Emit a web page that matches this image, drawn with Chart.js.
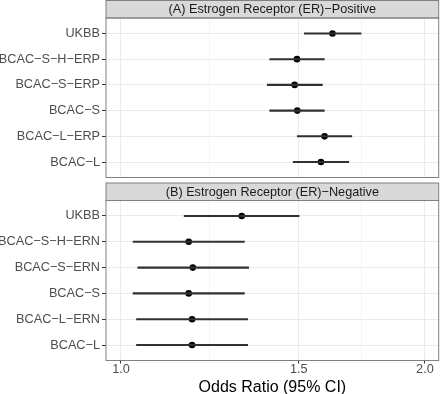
<!DOCTYPE html>
<html lang="en">
<head>
  <meta charset="UTF-8" />
  <title>Odds ratios by ER status</title>
  <script src="https://cdn.jsdelivr.net/npm/chart.js"></script>
  <style>
    body { margin: 0; background: #fff; }
    #wrap { position: relative; width: 440px; height: 394px; background: #fff; }
    #wrap canvas { position: absolute; left: 0; }
  </style>
</head>
<body>
  <div id="wrap">
    <canvas id="chartA" width="440" height="180" style="top:0"></canvas>
    <canvas id="chartB" width="440" height="214" style="top:180px"></canvas>
  </div>

  <script>
    // panel A: ER-positive
    const posTitle = '(A) Estrogen Receptor (ER)\u2212Positive';
    const posLabels = ['UKBB', 'BCAC\u2212S\u2212H\u2212ERP', 'BCAC\u2212S\u2212ERP', 'BCAC\u2212S', 'BCAC\u2212L\u2212ERP', 'BCAC\u2212L'];
    const posOR    = [1.620, 1.494, 1.486, 1.495, 1.591, 1.578];
    const posLower = [1.519, 1.404, 1.396, 1.404, 1.495, 1.481];
    const posUpper = [1.729, 1.590, 1.583, 1.590, 1.693, 1.681];

    // panel B: ER-negative
    const negTitle = '(B) Estrogen Receptor (ER)\u2212Negative';
    const negLabels = ['UKBB', 'BCAC\u2212S\u2212H\u2212ERN', 'BCAC\u2212S\u2212ERN', 'BCAC\u2212S', 'BCAC\u2212L\u2212ERN', 'BCAC\u2212L'];
    const negOR    = [1.317, 1.167, 1.178, 1.167, 1.176, 1.176];
    const negLower = [1.155, 1.028, 1.039, 1.028, 1.036, 1.036];
    const negUpper = [1.501, 1.325, 1.338, 1.325, 1.335, 1.335];

    // x axis (log scale)
    const tickValues = [1, 1.5, 2];
    const tickLabels = ['1.0', '1.5', '2.0'];
    const xMin = 0.9664;
    const xMax = 2.064;

    const FONT = '"Liberation Sans", Arial, sans-serif';
    const STRIP_H = 17.5;

    // minor grid lines sit halfway (in log space) between major breaks
    const minorValues = [];
    for (let i = 0; i < tickValues.length - 1; i++) {
      minorValues.push(Math.sqrt(tickValues[i] * tickValues[i + 1]));
    }
    const gridValues = [...tickValues, ...minorValues].sort((a, b) => a - b);

    // grey facet strip above the panel + panel border
    const stripPlugin = {
      id: 'strip',
      afterDraw(chart, args, opts) {
        const { ctx, chartArea: a } = chart;
        const w = a.right - a.left;
        ctx.save();
        ctx.fillStyle = '#d9d9d9';
        ctx.fillRect(a.left, a.top - STRIP_H, w, STRIP_H);
        ctx.strokeStyle = '#808080';
        ctx.lineWidth = 1;
        ctx.strokeRect(a.left, a.top - STRIP_H, w, STRIP_H);
        ctx.strokeRect(a.left, a.top, w, a.bottom - a.top);
        ctx.fillStyle = '#1a1a1a';
        ctx.font = '12.7px ' + FONT;
        ctx.textAlign = 'center';
        ctx.textBaseline = 'middle';
        ctx.fillText(opts.text, a.left + w / 2, a.top - STRIP_H / 2 + 0.5);
        ctx.restore();
      }
    };

    // keep label overhang from shrinking the plot area
    function noOverhang(s) {
      s.paddingTop = 0;
      s.paddingBottom = 0;
      s.paddingLeft = 0;
      s.paddingRight = 0;
    }

    function makePanel(canvasId, title, labels, or, lower, upper, showX) {
      const isMajor = v => tickValues.some(t => Math.abs(t - v) < 1e-6);
      return new Chart(document.getElementById(canvasId), {
        type: 'bar',
        data: {
          datasets: [{
            type: 'bar',
            data: labels.map((l, i) => ({ x: [lower[i], upper[i]], y: i + 1 })),
            backgroundColor: '#303030',
            borderWidth: 0,
            barThickness: 1.4
          }, {
            type: 'line',
            data: labels.map((l, i) => ({ x: or[i], y: i + 1 })),
            showLine: false,
            pointRadius: 3.3,
            pointBackgroundColor: '#000',
            pointBorderWidth: 0
          }]
        },
        options: {
          indexAxis: 'y',
          responsive: false,
          animation: false,
          events: [],
          layout: {
            autoPadding: false,
            padding: { top: showX ? 20.5 : 18, right: 1.3, bottom: showX ? 0 : 2.5, left: 0 }
          },
          plugins: {
            legend: { display: false },
            tooltip: { enabled: false },
            strip: { text: title }
          },
          scales: {
            x: {
              type: 'logarithmic',
              min: xMin,
              max: xMax,
              bounds: 'data',
              afterBuildTicks: s => { s.ticks = gridValues.map(v => ({ value: v })); },
              afterFit: s => { s.height = showX ? 33.5 : 0; noOverhang(s); },
              ticks: {
                display: showX,
                autoSkip: false,
                maxRotation: 0,
                padding: -2,
                color: '#4d4d4d',
                font: { family: FONT, size: 12.7 },
                callback: v => {
                  const i = tickValues.findIndex(t => Math.abs(t - v) < 1e-6);
                  return i >= 0 ? tickLabels[i] : '';
                }
              },
              grid: {
                offset: false,
                color: c => (c.tick && isMajor(c.tick.value)) ? '#ebebeb' : '#f3f3f3',
                lineWidth: 1,
                drawTicks: showX,
                tickLength: 3,
                tickColor: c => (c.tick && isMajor(c.tick.value)) ? '#333' : 'rgba(0,0,0,0)'
              },
              border: { display: false },
              title: {
                display: showX,
                text: 'Odds Ratio (95% CI)',
                color: '#000',
                font: { family: FONT, size: 16, lineHeight: 1 },
                padding: { top: 0, bottom: -1.5 }
              }
            },
            y: {
              type: 'linear',
              reverse: true,
              offset: false,
              bounds: 'data',
              min: 0.4,
              max: labels.length + 0.6,
              afterBuildTicks: s => { s.ticks = labels.map((l, i) => ({ value: i + 1 })); },
              afterFit: s => { s.width = 106; noOverhang(s); },
              ticks: {
                autoSkip: false,
                padding: 2,
                color: '#4d4d4d',
                font: { family: FONT, size: 12.7 },
                callback: v => labels[v - 1]
              },
              grid: {
                offset: false,
                color: '#ebebeb',
                lineWidth: 1,
                tickLength: 4,
                tickColor: '#333'
              },
              border: { display: false }
            }
          }
        },
        plugins: [stripPlugin]
      });
    }

    makePanel('chartA', posTitle, posLabels, posOR, posLower, posUpper, false);
    makePanel('chartB', negTitle, negLabels, negOR, negLower, negUpper, true);
  </script>
</body>
</html>
